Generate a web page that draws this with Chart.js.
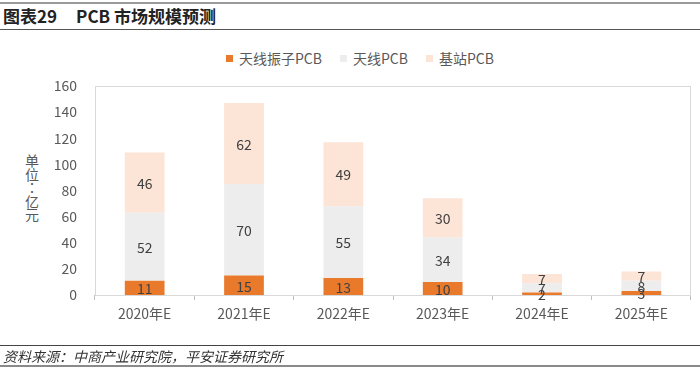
<!DOCTYPE html>
<html><head><meta charset="utf-8">
<script src="https://cdn.jsdelivr.net/npm/chart.js"></script>
<style>
html,body{margin:0;padding:0;background:#fff;}
body{width:700px;height:370px;overflow:hidden;font-family:"Noto Sans CJK SC","Noto Sans",sans-serif;}
#wrap{position:relative;width:700px;height:370px;}
#c{position:absolute;left:0;top:0;}
.hl{position:absolute;left:0;width:700px;}
#title{position:absolute;left:3px;top:3px;font-size:17px;font-weight:bold;color:#222;line-height:26px;white-space:nowrap;}
#title span{margin-left:19px;}
#source{position:absolute;left:3px;top:346px;font-size:14px;font-style:italic;color:#333;line-height:20px;white-space:nowrap;}
#ylab{position:absolute;left:22px;top:154px;width:20px;font-size:14px;color:#595959;text-align:center;line-height:13.5px;}
#legend{position:absolute;top:49px;left:0;width:700px;display:flex;justify-content:center;font-size:14px;color:#595959;line-height:18px;padding-left:20px;box-sizing:border-box;}
#legend .it{display:flex;align-items:center;margin:0 9px;}
#legend .sw{width:7px;height:7px;margin-right:6px;}
</style>
</head><body>
<div id="wrap">
  <div class="hl" style="top:2px;height:2px;background:#9a9a9a;"></div>
  <div id="title">图表29<span>PCB 市场规模预测</span></div>
  <div class="hl" style="top:29px;height:1px;background:#555;"></div>
  <div id="legend"></div>
  <div id="ylab"><div>单</div><div>位</div><div style="font-family:'Noto Sans CJK TC'">：</div><div>亿</div><div>元</div></div>
  <canvas id="c" width="700" height="370"></canvas>
  <div class="hl" style="top:345px;height:1px;background:#444;"></div>
  <div id="source">资料来源：中商产业研究院，平安证券研究所</div>
  <div class="hl" style="top:365px;height:2px;background:#8a8a8a;"></div>
</div>
<script>
const categories = ["2020年E","2021年E","2022年E","2023年E","2024年E","2025年E"];
const seriesNames = ["天线振子PCB","天线PCB","基站PCB"];
const antennaElementPCB = [11,15,13,10,2,3];
const antennaPCB = [52,70,55,34,7,8];
const baseStationPCB = [46,62,49,30,7,7];
const seriesColors = ["#E97A2C","#EDEDED","#FCE4D6"];
const yTicks = [0,20,40,60,80,100,120,140,160];

// HTML legend built from the series
const lg = document.getElementById('legend');
seriesNames.forEach((n,i)=>{
  const it=document.createElement('div');it.className='it';
  const sw=document.createElement('div');sw.className='sw';sw.style.background=seriesColors[i];
  const tx=document.createElement('span');tx.textContent=n;
  it.appendChild(sw);it.appendChild(tx);lg.appendChild(it);
});

const boxPlugin = {
  id:'box',
  beforeDatasetsDraw(chart){
    const {ctx, chartArea:a} = chart;
    ctx.save();
    ctx.strokeStyle='#d9d9d9';ctx.lineWidth=1;
    ctx.strokeRect(Math.round(a.left)+0.5, Math.round(a.top)+0.5, Math.round(a.right-a.left)-1, Math.round(a.bottom-a.top));
    ctx.restore();
  }
};
const labelPlugin = {
  id:'vals',
  afterDatasetsDraw(chart){
    const ctx=chart.ctx;
    ctx.save();
    ctx.font='14px "Noto Sans CJK SC","Noto Sans",sans-serif';
    ctx.fillStyle='#404040';ctx.textAlign='center';ctx.textBaseline='middle';
    chart.data.datasets.forEach((ds,di)=>{
      const meta=chart.getDatasetMeta(di);
      meta.data.forEach((el,i)=>{
        const v=ds.data[i];
        ctx.fillText(String(v), el.x, (el.y+el.base)/2+1);
      });
    });
    ctx.restore();
  }
};

new Chart(document.getElementById('c'),{
  type:'bar',
  data:{
    labels:categories,
    datasets:[
      {label:seriesNames[0],data:antennaElementPCB,backgroundColor:seriesColors[0]},
      {label:seriesNames[1],data:antennaPCB,backgroundColor:seriesColors[1]},
      {label:seriesNames[2],data:baseStationPCB,backgroundColor:seriesColors[2]}
    ]
  },
  options:{
    responsive:false,animation:false,devicePixelRatio:1,
    categoryPercentage:1,barPercentage:0.4,
    layout:{padding:{top:86,right:9,bottom:0,left:0}},
    plugins:{legend:{display:false},tooltip:{enabled:false}},
    scales:{
      x:{stacked:true,offset:true,
        grid:{offset:true,drawOnChartArea:false,drawTicks:true,tickLength:5,color:'#bfbfbf'},
        border:{display:false},
        ticks:{font:{size:14,family:'"Noto Sans CJK SC","Noto Sans",sans-serif'},color:'#595959',padding:5,maxRotation:0},
        afterFit(s){s.height=75;}
      },
      y:{stacked:true,min:0,max:160,
        grid:{display:false,drawTicks:false},border:{display:false},
        afterBuildTicks(s){s.ticks=yTicks.map(v=>({value:v}));},
        ticks:{font:{size:14,family:'"Noto Sans CJK SC","Noto Sans",sans-serif'},color:'#595959',padding:18},
        afterFit(s){s.width=95;}
      }
    }
  },
  plugins:[boxPlugin,labelPlugin]
});
</script>
</body></html>
